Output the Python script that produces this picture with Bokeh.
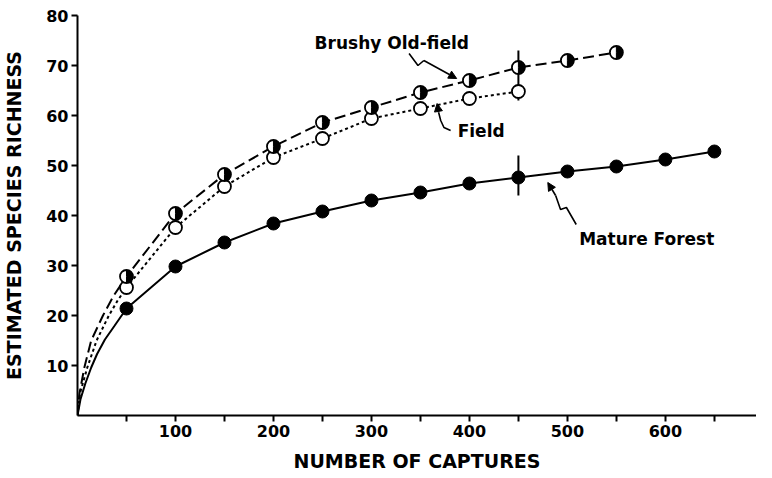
import math
from bokeh.plotting import figure
from bokeh.models import Range1d, FixedTicker, Label, Arrow, NormalHead
from bokeh.embed import file_html
from bokeh.resources import INLINE

# ---- data ----
forest_captures = [50, 100, 150, 200, 250, 300, 350, 400, 450, 500, 550, 600, 650]
forest_richness = [21.4, 29.8, 34.6, 38.4, 40.8, 43.0, 44.6, 46.4, 47.6, 48.8, 49.8, 51.2, 52.8]

brushy_captures = [50, 100, 150, 200, 250, 300, 350, 400, 450, 500, 550]
brushy_richness = [27.8, 40.4, 48.2, 53.8, 58.6, 61.6, 64.6, 67.0, 69.6, 71.0, 72.6]

field_captures = [50, 100, 150, 200, 250, 300, 350, 400, 450]
field_richness = [25.6, 37.6, 45.8, 51.6, 55.4, 59.4, 61.4, 63.4, 64.8]

# start of each curve (from origin to first point)
forest_lead_x = [0, 3, 8, 14, 20, 28, 38]
forest_lead_y = [0, 3.2, 6.4, 9.6, 12.3, 15.2, 18.0]
brushy_lead_x = [0, 2, 7, 14, 26, 37]
brushy_lead_y = [0, 4.4, 9.6, 15.0, 20.0, 24.0]
field_lead_x = [0, 2.5, 10, 19.5, 32, 41]
field_lead_y = [0, 4.4, 9.6, 15.0, 20.0, 23.0]

# vertical bars at 450 captures
bar_x = [450, 450]
bar_low = [63.0, 44.0]
bar_high = [73.0, 52.0]

x_ticks = [50, 100, 150, 200, 250, 300, 350, 400, 450, 500, 550, 600, 650]
x_tick_labels = ["", "100", "", "200", "", "300", "", "400", "", "500", "", "600", ""]
y_ticks = [10, 20, 30, 40, 50, 60, 70, 80]
y_tick_labels = ["10", "20", "30", "40", "50", "60", "70", "80"]

# annotation text and pointer lines
label_texts = ["Brushy Old-field", "Field", "Mature Forest"]
label_x = [242, 388, 512]
label_y = [74.6, 57.0, 35.4]
brushy_ptr_x = [338.4, 347.5, 353.5]
brushy_ptr_y = [72.4, 70.0, 71.0]
brushy_ptr_tip = (387, 67.4)
field_ptr_x = [380.8, 374.0, 370.7, 368.6]
field_ptr_y = [57.0, 57.6, 59.0, 60.6]
field_ptr_tip = (367, 62.4)
forest_ptr_x = [509, 499, 493, 488]
forest_ptr_y = [38.2, 41.6, 41.2, 44.0]
forest_ptr_tip = (480, 46.6)

FONT = "DejaVu Sans"

p = figure(width=756, height=476, output_backend="svg", toolbar_location=None,
           x_range=Range1d(0, 693), y_range=Range1d(0, 80),
           min_border_left=70, min_border_right=0, min_border_top=15, min_border_bottom=61)
p.outline_line_color = None
p.grid.grid_line_color = None
p.background_fill_color = "white"
p.border_fill_color = "white"

for ax in (p.xaxis[0], p.yaxis[0]):
    ax.axis_line_width = 2
    ax.axis_line_color = "black"
    ax.major_tick_line_width = 2
    ax.major_tick_line_color = "black"
    ax.major_tick_out = 6
    ax.major_tick_in = 0
    ax.minor_tick_line_color = None
    ax.major_label_text_font = FONT
    ax.major_label_text_font_style = "bold"
    ax.major_label_text_font_size = "16px"
    ax.major_label_text_color = "black"
    ax.axis_label_text_font = FONT
    ax.axis_label_text_font_style = "bold"
    ax.axis_label_text_font_size = "19px"
    ax.axis_label_text_color = "black"

p.xaxis.ticker = FixedTicker(ticks=x_ticks)
p.xaxis.major_label_overrides = {t: l for t, l in zip(x_ticks, x_tick_labels)}
p.xaxis.major_label_standoff = 3
p.xaxis.axis_label = "NUMBER OF CAPTURES"
p.xaxis.axis_label_standoff = 10

p.yaxis.ticker = FixedTicker(ticks=y_ticks)
p.yaxis.major_label_overrides = {t: l for t, l in zip(y_ticks, y_tick_labels)}
p.yaxis.major_label_standoff = 3
p.yaxis.axis_label = "ESTIMATED SPECIES RICHNESS"
p.yaxis.axis_label_standoff = 18

# curves
p.line(forest_lead_x + forest_captures, forest_lead_y + forest_richness,
       line_color="black", line_width=2)
p.line(brushy_lead_x + brushy_captures, brushy_lead_y + brushy_richness,
       line_color="black", line_width=2, line_dash="11 5")
p.line(field_lead_x + field_captures, field_lead_y + field_richness,
       line_color="black", line_width=2, line_dash="3 3")

# vertical bars
p.segment(x0=bar_x, y0=bar_low, x1=bar_x, y1=bar_high, line_color="black", line_width=2)

# markers
p.scatter(forest_captures, forest_richness, size=13, fill_color="black", line_color="black")
p.scatter(field_captures, field_richness, size=13, fill_color="white", line_color="black",
          line_width=1.8)
p.scatter(brushy_captures, brushy_richness, size=13, fill_color="white", line_color="black",
          line_width=1.8)
p.wedge(brushy_captures, brushy_richness, radius=6, radius_units="screen",
        start_angle=-math.pi / 2, end_angle=math.pi / 2,
        fill_color="black", line_color="black")

# annotation labels
for t, x, y in zip(label_texts, label_x, label_y):
    p.add_layout(Label(x=x, y=y, text=t, text_font=FONT, text_font_style="bold",
                       text_font_size="17px", text_color="black",
                       text_align="left", text_baseline="middle"))

# pointers
for xs, ys, tip in ((brushy_ptr_x, brushy_ptr_y, brushy_ptr_tip),
                    (field_ptr_x, field_ptr_y, field_ptr_tip),
                    (forest_ptr_x, forest_ptr_y, forest_ptr_tip)):
    p.line(xs, ys, line_color="black", line_width=1.6)
    p.add_layout(Arrow(x_start=xs[-1], y_start=ys[-1], x_end=tip[0], y_end=tip[1],
                       line_width=1.6, line_color="black",
                       end=NormalHead(size=8, fill_color="black", line_color="black")))

open("out.html", "w").write(file_html(p, INLINE))
